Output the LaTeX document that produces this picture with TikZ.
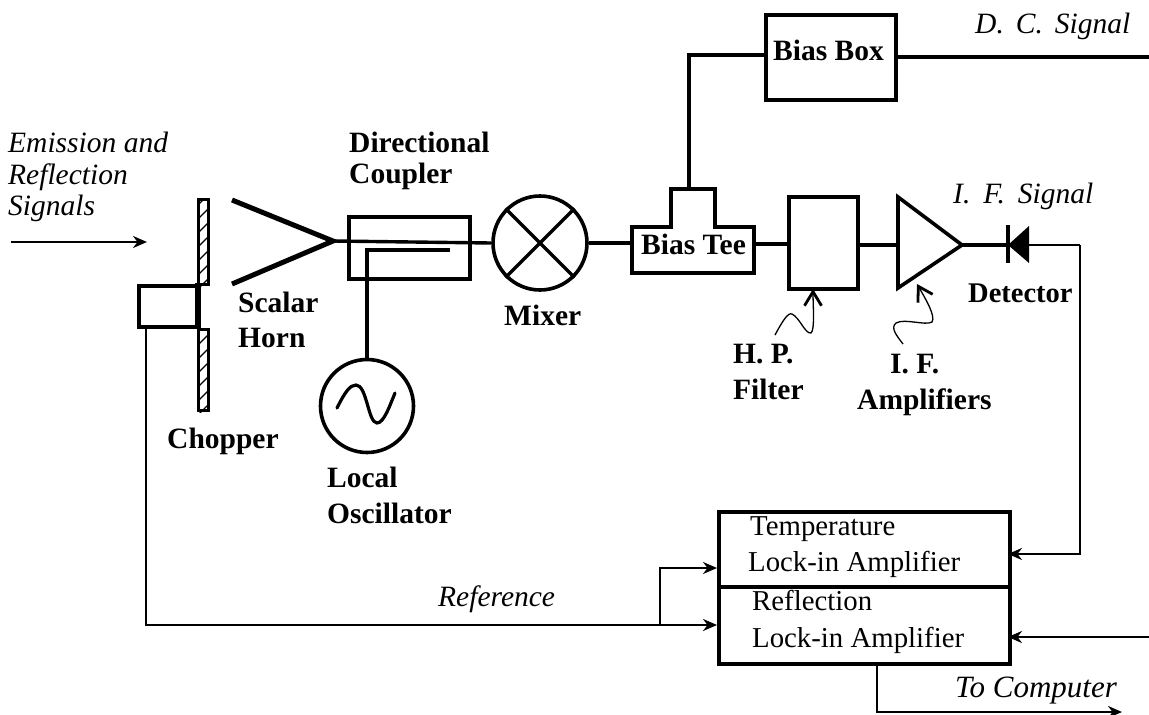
\documentclass[tikz,border=0pt]{standalone}
\usepackage{fontspec}
\setmainfont{Liberation Serif}
\usetikzlibrary{arrows.meta,calc}
\tikzset{
  box/.style={draw,line width=3.6pt,inner sep=0pt,minimum width=#1},
  txt/.style={anchor=base west,inner sep=0pt,font=\fontsize{28.8}{32}\selectfont},
  lab/.style={txt,font=\fontsize{29.5}{32}\selectfont\bfseries},
  ital/.style={txt,font=\fontsize{29.5}{32}\selectfont\itshape},
  wire/.style={line width=3.4pt},
  thin wire/.style={line width=2.6pt},
  tip/.style={-{Stealth[length=14pt,width=12pt]}},
  squig/.style={line width=1.3pt,-{Straight Barb[length=14pt,width=17pt,line width=2.8pt]}},
  blade/.style={draw,line width=3pt,inner sep=0pt,minimum width=10pt},
}
\begin{document}
\begin{tikzpicture}[x=1pt,y=-1pt]
\useasboundingbox (0,0) rectangle (1149,715);
% free ends
\coordinate (inL) at (11,242);
\coordinate (inR) at (147,242);
\coordinate (dcEnd) at (1149,57);
\coordinate (reflEnd) at (1149,637);
\coordinate (compEnd) at (1122,712);
% chopper
\node[blade,minimum height=85pt,anchor=north west] (bladeU) at (197,198) {};
\node[blade,minimum height=81pt,anchor=north west] (bladeL) at (197,328) {};
\foreach \b in {bladeU,bladeL}{
  \begin{scope}
    \clip (\b.south west) rectangle (\b.north east);
    \foreach \k in {0,14,...,98}
      \draw[line width=1.4pt] ($(\b.south west)+(-2,-\k+6)$) -- ++(14,-14);
  \end{scope}
}
\node[box,minimum width=60pt,minimum height=41pt,anchor=north west] (motor) at (137,284) {};
\draw[line width=4.5pt] (197,283) -- (197,328);
% horn
\coordinate (hornTip) at (333,241);
\coordinate (hornU) at (232,200);
\coordinate (hornL) at (232,284);
\draw[line width=5pt,line join=miter] (hornU) -- (hornTip) -- (hornL);
% coupler
\node[box,minimum width=121pt,minimum height=62pt,anchor=north west] (coupler) at (347,215) {};
% circles
\node[draw,circle,line width=3.6pt,minimum size=94pt,inner sep=0pt] (mixer) at (540,243) {};
\draw[line width=3.4pt] (mixer.north west) -- (mixer.south east) (mixer.north east) -- (mixer.south west);
\node[draw,circle,line width=3.6pt,minimum size=93pt,inner sep=0pt] (osc) at (367,406) {};
\draw[line width=3.2pt,line cap=round] (337,408) .. controls (345,392) and (350,385) .. (356,385)
  .. controls (367,385) and (368,423) .. (377,423) .. controls (384,423) and (390,405) .. (395,393);
% bias tee
\draw[line width=3.6pt,line join=miter] (632,227) -- (671,227) -- (671,189) -- (715,189) -- (715,227) -- (754,227) -- (754,273) -- (632,273) -- cycle;
\coordinate (teeL) at (632,243);
\coordinate (teeR) at (754,244);
\coordinate (teeT) at (689,189);
\node[lab,font=\fontsize{29.5}{32}\selectfont\bfseries] (teelabel) at (641,254) {Bias Tee};
% bias box
\node[box,minimum width=130pt,minimum height=85pt,anchor=north west] (biasbox) at (764,13) {};
\node[lab] (biaslabel) at (773,60) {Bias Box};
\coordinate (bbL) at (764,55);
\coordinate (bbR) at (894,57);
\coordinate (corner) at (689,55);
% filter
\node[box,minimum width=69pt,minimum height=92pt,anchor=north west] (filter) at (787,195) {};
% amplifier
\coordinate (ampA) at (898,197);
\coordinate (ampB) at (898,288);
\coordinate (ampTip) at (962,245);
\draw[line width=3.6pt,line join=miter] (ampA) -- (ampTip) -- (ampB) -- cycle;
% diode
\coordinate (dioA) at (1008,225);
\coordinate (dioB) at (1008,263);
\coordinate (dioK) at (1008,245);
\coordinate (dioC) at (1028,245);
\draw[line width=3.2pt] (dioA) -- (dioB);
\fill (dioK) -- (1029,226) -- (1029,263) -- cycle;
% lock-in
\node[box,minimum width=291pt,minimum height=152pt,anchor=north west] (lockin) at (717,510) {};
\draw[line width=3.6pt] (717,587) -- (1008,587);
% wires
\draw[thin wire,tip] (inL) -- (inR);
\draw[wire] (hornTip) -- (mixer.west);
\draw[wire] (mixer.east) -- (teeL);
\draw[wire,line join=miter] (osc.north) -- (367,250) -- (450,250);
\draw[wire,line join=miter] (teeT) -- (corner) -- (bbL);
\draw[wire] (bbR) -- (dcEnd);
\draw[wire] (teeR) -- (teeR -| filter.west);
\draw[wire] (filter.east |- ampTip) -- (898,245);
\draw[wire] (ampTip) -- (dioK);
\coordinate (cornerD) at (1080,245);
\coordinate (liT) at (1008,554);
\coordinate (liB) at (1008,637);
\draw[thin wire,line join=miter] (dioC) -- (cornerD);
\draw[thin wire,tip,line join=miter] (cornerD) -- (1080,554) -- (liT);
\draw[thin wire,tip] (reflEnd) -- (liB);
\coordinate (refOut) at (146,325);
\coordinate (liLL) at (717,625);
\coordinate (liUL) at (717,568);
\coordinate (branch) at (660,625);
\draw[thin wire,tip,line join=miter] (refOut) -- (146,625) -- (liLL);
\draw[thin wire,tip,line join=miter] (branch) -- (660,568) -- (liUL);
\coordinate (compOut) at (877,662);
\draw[thin wire,tip,line join=miter] (compOut) -- (877,712) -- (compEnd);
% squiggles
\coordinate (hpS) at (775,335);
\coordinate (hpE) at (813,289);
\coordinate (ifS) at (903,344);
\coordinate (ifE) at (917,284);
\draw[squig] (hpS) .. controls (782,322) and (788,312) .. (792,314) .. controls (800,318) and (805,334) .. (811,333) .. controls (815,330) and (813,305) .. (hpE);
\draw[squig] (ifS) .. controls (897,336) and (890,328) .. (896,323) .. controls (905,318) and (925,326) .. (932,322) .. controls (936,316) and (925,298) .. (ifE);
% labels
\node[ital] (t1) at (8,152) {Emission and};
\node[ital] (t2) at (8,184) {Reflection};
\node[ital] (t3) at (8,215) {Signals};
\node[lab] (t4) at (349,152) {Directional};
\node[lab] (t5) at (349,183) {Coupler};
\node[lab] (t6) at (238,312) {Scalar};
\node[lab] (t7) at (238,347) {Horn};
\node[lab] (t8) at (504,325) {Mixer};
\node[lab] (t9) at (167,448) {Chopper};
\node[lab] (t10) at (327,487) {Local};
\node[lab] (t11) at (327,523) {Oscillator};
\node[lab] (t12) at (733,363) {H. P.};
\node[lab] (t13) at (733,399) {Filter};
\node[lab] (t14) at (890,373) {I. F.};
\node[lab] (t15) at (857,409) {Amplifiers};
\node[lab,font=\fontsize{28.5}{32}\selectfont\bfseries] (t16) at (968,302) {Detector};
\node[ital] (t17) at (953,203) {I.\hspace{13pt}F.\hspace{13pt}Signal};
\node[ital] (t18) at (975,33) {D.\hspace{12pt}C.\hspace{12pt}Signal};
\node[ital] (t19) at (438,606) {Reference};
\node[ital,font=\fontsize{31}{32}\selectfont\itshape] (t20) at (955,697) {To Computer};
\node[txt] (t21) at (750,535) {Temperature};
\node[txt] (t22) at (748,571) {Lock-in Amplifier};
\node[txt] (t23) at (752,610) {Reflection};
\node[txt] (t24) at (752,647) {Lock-in Amplifier};
\end{tikzpicture}
\end{document}
